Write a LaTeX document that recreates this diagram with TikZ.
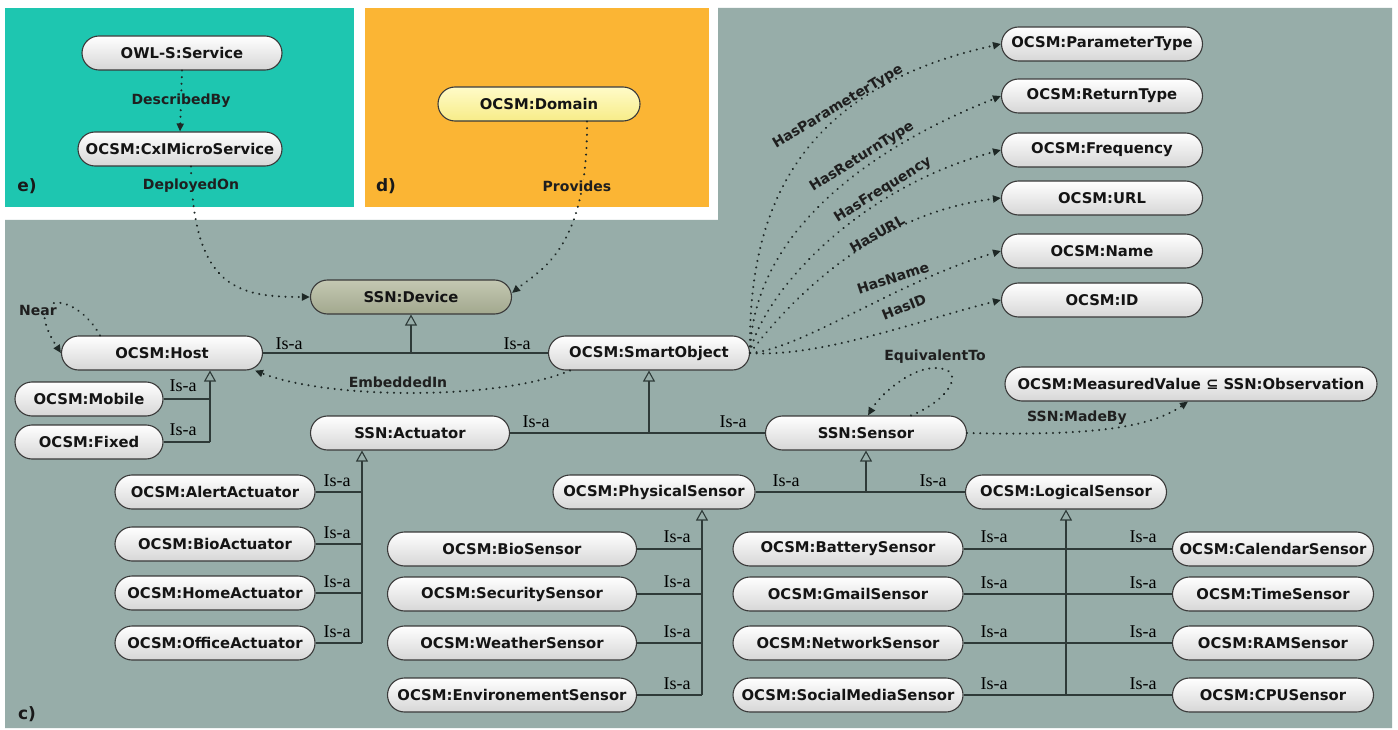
\documentclass[tikz,border=0pt]{standalone}
\usepackage{fontspec}
\setmainfont{DejaVu Sans}
\newfontfamily\isafont{Liberation Serif}
\usetikzlibrary{arrows.meta}

\definecolor{panelgray}{HTML}{97ADA9}
\definecolor{panelteal}{HTML}{1EC6B0}
\definecolor{panelorange}{HTML}{FBB534}
\definecolor{nodeline}{HTML}{3A3A3A}
\definecolor{linec}{HTML}{2E3A38}
\definecolor{dotc}{HTML}{1E2826}
\definecolor{devtop}{HTML}{C4C8B2}
\definecolor{devbot}{HTML}{A2A88E}
\definecolor{domtop}{HTML}{FFFBC8}
\definecolor{dombot}{HTML}{F7EC88}

\tikzset{
  cls/.style={draw=nodeline, line width=1.1pt, rounded corners=17pt,
    top color=white, bottom color=black!16, minimum height=34pt,
    inner xsep=2pt, inner ysep=0pt, text=black!92,
    font=\bfseries\fontsize{14.8}{16}\selectfont},
  gen/.style={draw=linec, line width=1.1pt,
    -{Triangle[open, length=11pt, width=12pt]}},
  plain/.style={draw=linec, line width=1.1pt},
  rel/.style={draw=dotc, line width=2.3pt, line cap=round,
    dash pattern=on 0.01pt off 6.6pt,
    -{Triangle[length=8pt, width=7pt]}},
  isalbl/.style={inner sep=0pt, text=black,
    font=\isafont\fontsize{18}{20}\selectfont},
  rlbl/.style={inner sep=1pt, text=black!88,
    font=\bfseries\fontsize{14}{16}\selectfont},
  tag/.style={inner sep=0pt, text=black!90,
    font=\bfseries\fontsize{17}{19}\selectfont},
}

\begin{document}
\begin{tikzpicture}[x=1pt,y=-1pt]
\useasboundingbox (0,0) rectangle (1398,730);
\fill[white] (0,0) rectangle (1398,730);

% panels c), e) and d)
\fill[panelgray] (5,220) -- (718,220) -- (718,8) -- (1392,8) -- (1392,728) -- (5,728) -- cycle;
\fill[panelteal] (5,8) rectangle (354,207);
\fill[panelorange] (365,8) rectangle (709,207);
\node[tag] (tagE) at (27,186) {e)};
\node[tag] (tagD) at (386,186) {d)};
\node[tag] (tagC) at (27,714) {c)};

% service panel
\node[cls, minimum width=200pt] (owl) at (182,53) {OWL-S:Service};
\node[cls, minimum width=204pt] (micro) at (180,149) {OCSM:CxIMicroService};

% domain panel
\node[cls, minimum width=202pt, top color=domtop, bottom color=dombot] (dom) at (539,104) {OCSM:Domain};

% core classes
\node[cls, minimum width=201pt, top color=devtop, bottom color=devbot] (dev) at (411,297) {SSN:Device};
\node[cls, minimum width=201pt] (host) at (162,353) {OCSM:Host};
\node[cls, minimum width=201pt] (so) at (649,353) {OCSM:SmartObject};
\node[cls, minimum width=148pt] (mob) at (89,399) {OCSM:Mobile};
\node[cls, minimum width=148pt] (fix) at (89,442) {OCSM:Fixed};
\node[cls, minimum width=199pt] (act) at (410,433) {SSN:Actuator};
\node[cls, minimum width=201pt] (sen) at (866,433) {SSN:Sensor};
\node[cls, minimum width=372pt] (mv) at (1191,384) {OCSM:MeasuredValue ⊆ SSN:Observation};

% properties of a smart object
\node[cls, minimum width=201pt] (pt)  at (1102,44)  {OCSM:ParameterType};
\node[cls, minimum width=201pt] (rt)  at (1102,96)  {OCSM:ReturnType};
\node[cls, minimum width=201pt] (fr)  at (1102,150) {OCSM:Frequency};
\node[cls, minimum width=201pt] (url) at (1102,198) {OCSM:URL};
\node[cls, minimum width=201pt] (nm)  at (1102,251) {OCSM:Name};
\node[cls, minimum width=201pt] (id)  at (1102,300) {OCSM:ID};

% sensor families
\node[cls, minimum width=202pt] (ps) at (654,492) {OCSM:PhysicalSensor};
\node[cls, minimum width=201pt] (ls) at (1066,492) {OCSM:LogicalSensor};

% actuators
\node[cls, minimum width=200pt] (aa) at (215,492) {OCSM:AlertActuator};
\node[cls, minimum width=200pt] (ba) at (215,544) {OCSM:BioActuator};
\node[cls, minimum width=200pt] (ha) at (215,593) {OCSM:HomeActuator};
\node[cls, minimum width=200pt] (oa) at (215,643) {OCSM:OfficeActuator};

% physical sensors
\node[cls, minimum width=249pt] (bs) at (512,549) {OCSM:BioSensor};
\node[cls, minimum width=249pt] (ss) at (512,594) {OCSM:SecuritySensor};
\node[cls, minimum width=249pt] (ws) at (512,643) {OCSM:WeatherSensor};
\node[cls, minimum width=249pt] (es) at (512,695) {OCSM:EnvironementSensor};

% logical sensors
\node[cls, minimum width=230pt] (bat) at (848,549) {OCSM:BatterySensor};
\node[cls, minimum width=230pt] (gm)  at (848,594) {OCSM:GmailSensor};
\node[cls, minimum width=230pt] (net) at (848,643) {OCSM:NetworkSensor};
\node[cls, minimum width=230pt] (soc) at (848,695) {OCSM:SocialMediaSensor};
\node[cls, minimum width=201pt] (cal) at (1273,549) {OCSM:CalendarSensor};
\node[cls, minimum width=201pt] (tim) at (1273,594) {OCSM:TimeSensor};
\node[cls, minimum width=201pt] (ram) at (1273,643) {OCSM:RAMSensor};
\node[cls, minimum width=201pt] (cpu) at (1273,695) {OCSM:CPUSensor};

% ---------- generalisation (Is-a) ----------
\coordinate (jHost) at (210,442);
\draw[plain] (mob.east) -- (mob.east -| jHost);
\draw[plain] (fix.east) -- (jHost);
\draw[gen] (jHost) -- (jHost |- host.south);
\node[isalbl] (iM) at (183,386) {Is-a};
\node[isalbl] (iF) at (183,430) {Is-a};

\coordinate (jDev) at (dev.south |- host.east);
\draw[plain] (host.east) -- (so.west);
\draw[gen] (jDev) -- (dev.south);
\node[isalbl] (iH) at (289,344) {Is-a};
\node[isalbl] (iS) at (517,344) {Is-a};

\coordinate (jSo) at (so.south |- act.east);
\draw[plain] (act.east) -- (sen.west);
\draw[gen] (jSo) -- (so.south);
\node[isalbl] (iA) at (536,422) {Is-a};
\node[isalbl] (iSe) at (733,422) {Is-a};

\coordinate (jSen) at (sen.south |- ps.east);
\draw[plain] (ps.east) -- (ls.west);
\draw[gen] (jSen) -- (sen.south);
\node[isalbl] (iP) at (786,481) {Is-a};
\node[isalbl] (iL) at (933,481) {Is-a};

\coordinate (jAct) at (362,643);
\draw[plain] (aa.east) -- (aa.east -| jAct);
\draw[plain] (ba.east) -- (ba.east -| jAct);
\draw[plain] (ha.east) -- (ha.east -| jAct);
\draw[plain] (oa.east) -- (jAct);
\draw[gen] (jAct) -- (jAct |- act.south);
\foreach \y/\n in {481/1,533/2,582/3,632/4} \node[isalbl] (iAct\n) at (337,\y) {Is-a};

\coordinate (jPs) at (702,695);
\draw[plain] (bs.east) -- (bs.east -| jPs);
\draw[plain] (ss.east) -- (ss.east -| jPs);
\draw[plain] (ws.east) -- (ws.east -| jPs);
\draw[plain] (es.east) -- (jPs);
\draw[gen] (jPs) -- (jPs |- ps.south);
\foreach \y/\n in {537/1,582/2,632/3,684/4} \node[isalbl] (iPs\n) at (677,\y) {Is-a};

\coordinate (jLs) at (ls.south |- soc.east);
\draw[plain] (bat.east) -- (cal.west);
\draw[plain] (gm.east) -- (tim.west);
\draw[plain] (net.east) -- (ram.west);
\draw[plain] (soc.east) -- (cpu.west);
\draw[gen] (jLs) -- (ls.south);
\foreach \y/\n in {537/1,583/2,632/3,684/4} {
  \node[isalbl] (iLl\n) at (994,\y) {Is-a};
  \node[isalbl] (iLr\n) at (1143,\y) {Is-a};
}

% ---------- object properties ----------
\draw[rel] (owl.south) -- (micro.north)
  node[rlbl, midway, fill=panelteal] (lDesc) {DescribedBy};
\draw[rel] ([xshift=11pt]micro.south) .. controls (193,290) and (240,297) .. (dev.west);
\node[rlbl, fill=panelteal] (lDep) at (191,186) {DeployedOn};
\draw[rel] ([xshift=48pt]dom.south) .. controls (588,250) and (540,270) .. ([yshift=4pt]dev.east);
\node[rlbl, fill=panelorange] (lProv) at (577,186) {Provides};

\draw[rel] ([xshift=-62pt]host.north) .. controls (75,290) and (20,290) .. (host.west);
\node[rlbl, fill=panelgray] (lNear) at (38,310) {Near};

\draw[rel] ([xshift=-79pt]so.south) .. controls (500,400) and (330,400) .. ([xshift=93pt]host.south);
\node[rlbl] (lEmb) at (398,382) {EmbeddedIn};

\draw[rel] ([xshift=45pt]sen.north) .. controls (950,400) and (968,368) .. (935,368)
  .. controls (910,368) and (880,395) .. ([xshift=2pt]sen.north);
\node[rlbl] (lEq) at (935,357) {EquivalentTo};

\draw[rel] (sen.east) .. controls (1090,436) and (1150,428) .. ([xshift=-3pt]mv.south);
\node[rlbl] (lMade) at (1077,418) {SSN:MadeBy};

% smart object attributes
\draw[rel] (so.east) .. controls (748,220) and (790,90)  .. (pt.west);
\draw[rel] (so.east) .. controls (752,250) and (840,160) .. (rt.west);
\draw[rel] (so.east) .. controls (760,300) and (850,190) .. (fr.west);
\draw[rel] (so.east) .. controls (775,320) and (860,215) .. (url.west);
\draw[rel] (so.east) .. controls (800,350) and (900,280) .. (nm.west);
\draw[rel] (so.east) .. controls (820,358) and (920,320) .. (id.west);
\node[rlbl, rotate=31] (lPt)  at (838,107) {HasParameterType};
\node[rlbl, rotate=32] (lRt)  at (862,157) {HasReturnType};
\node[rlbl, rotate=32] (lFr)  at (883,190) {HasFrequency};
\node[rlbl, rotate=30] (lUrl) at (877,234) {HasURL};
\node[rlbl, rotate=18] (lNm)  at (893,278) {HasName};
\node[rlbl, rotate=22] (lId)  at (904,307) {HasID};
\end{tikzpicture}
\end{document}
